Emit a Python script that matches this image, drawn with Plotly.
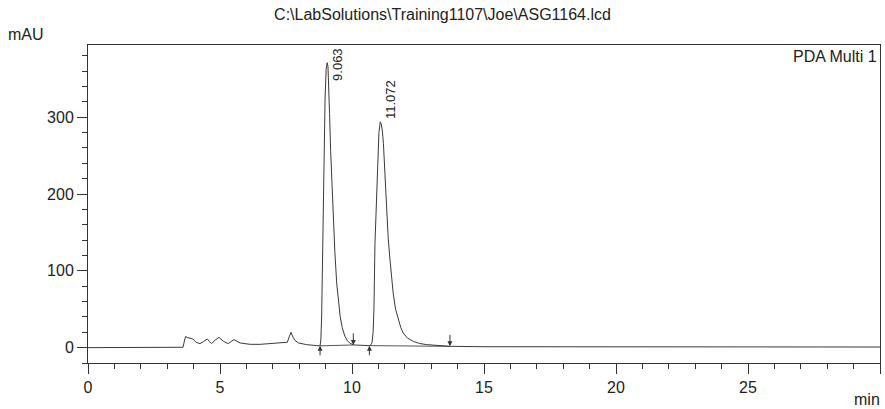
import plotly.graph_objects as go

# ---- data ----
time_min = [0.0, 3.60, 3.66, 3.70, 3.78, 3.84, 3.97, 4.09, 4.24, 4.38, 4.52, 4.60, 4.68,
            4.82, 4.96, 5.13, 5.31, 5.42, 5.53, 5.76, 6.14, 6.52, 6.89, 7.40, 7.55, 7.62,
            7.69, 7.76, 7.84, 7.97, 8.28, 8.66, 8.79, 8.82, 8.85, 8.89, 8.94, 8.98, 9.02,
            9.06, 9.09, 9.12, 9.15, 9.19, 9.24, 9.29, 9.35, 9.42, 9.48, 9.55, 9.63, 9.73,
            9.82, 9.92, 10.05, 10.40, 10.66, 10.72, 10.76, 10.80, 10.83, 10.87, 10.91,
            10.96, 11.02, 11.07, 11.11, 11.15, 11.19, 11.25, 11.31, 11.37, 11.44, 11.50,
            11.56, 11.65, 11.75, 11.85, 11.94, 12.10, 12.32, 12.55, 12.83, 13.20, 13.71,
            15.0, 20.0, 25.0, 30.0]
signal_mau = [0.0, 0.5, 10.0, 14.5, 13.0, 12.6, 11.3, 7.0, 5.2, 8.0, 11.3, 8.0, 5.2,
              10.0, 13.4, 8.2, 5.2, 8.0, 10.4, 6.1, 4.3, 4.3, 5.2, 6.1, 7.0, 14.0,
              19.9, 14.0, 9.5, 6.1, 3.9, 2.6, 2.3, 10.0, 40.0, 127.0, 257.0, 325.0, 362.0,
              371.0, 366.0, 344.0, 305.0, 257.0, 210.0, 170.0, 125.0, 84.0, 60.0, 41.0,
              26.0, 15.0, 9.0, 6.0, 3.5, 2.8, 2.6, 3.9, 6.5, 20.0, 49.0, 136.0, 185.0,
              222.0, 280.0, 294.0, 291.0, 282.0, 266.0, 222.0, 179.0, 143.0, 114.0, 90.0,
              71.0, 50.0, 36.0, 26.0, 19.0, 12.5, 8.2, 5.5, 3.9, 2.6, 1.7,
              1.2, 0.9, 0.8, 0.8]

peak_times = [9.063, 11.072]
peak_heights = [371.0, 294.0]
peak_labels = ["9.063", "11.072"]

# integration marks: time, signal at mark, direction (+1 up arrow, -1 down arrow)
mark_times = [8.79, 10.05, 10.66, 13.71]
mark_values = [2.3, 3.5, 2.6, 1.7]
mark_dirs = [1, -1, 1, -1]

# integration baselines (start/end of each peak)
base_t = [[8.79, 10.05], [10.66, 13.71]]
base_v = [[2.3, 3.5], [2.6, 1.7]]

title_text = "C:\\LabSolutions\\Training1107\\Joe\\ASG1164.lcd"
font_family = "Liberation Sans, Arial, sans-serif"
fs = 16

fig = go.Figure()
for bt, bv in zip(base_t, base_v):
    fig.add_trace(go.Scatter(x=bt, y=bv, mode="lines",
                             line=dict(color="#555555", width=1), hoverinfo="skip"))
fig.add_trace(go.Scatter(x=time_min, y=signal_mau, mode="lines",
                         line=dict(color="#3a3a3a", width=1)))

shifts = [(10, -2), (11, 22)]
for t, h, lab, (xs, ys) in zip(peak_times, peak_heights, peak_labels, shifts):
    fig.add_annotation(x=t, y=h, text=lab, textangle=-90, showarrow=False,
                       xanchor="center", yanchor="middle", xshift=xs, yshift=ys,
                       font=dict(size=13, color="#222222", family=font_family))

for t, v, d in zip(mark_times, mark_values, mark_dirs):
    fig.add_annotation(x=t, y=v, text="", showarrow=True, ax=0,
                       ay=11 if d > 0 else -13, arrowhead=2, arrowsize=1.0,
                       arrowwidth=1, arrowcolor="#333333")

fig.add_annotation(xref="paper", yref="paper", x=1, y=1, xanchor="right", yanchor="top",
                   yshift=-1, xshift=-1, text="PDA Multi 1", showarrow=False,
                   font=dict(size=fs, color="#222222", family=font_family))
fig.add_annotation(xref="paper", yref="paper", x=0, y=1, xanchor="center", yanchor="bottom",
                   xshift=-62, yshift=0, text="mAU", showarrow=False,
                   font=dict(size=fs, color="#222222", family=font_family))
fig.add_annotation(xref="paper", yref="paper", x=1, y=0, xanchor="right", yanchor="top",
                   yshift=-26, xshift=2, text="min", showarrow=False,
                   font=dict(size=fs, color="#222222", family=font_family))

axis_common = dict(showline=True, linecolor="#333333", linewidth=1, mirror=True,
                   ticks="outside", ticklen=10, tickcolor="#333333", tickwidth=1,
                   showgrid=False, zeroline=False,
                   tickfont=dict(size=fs, color="#222222", family=font_family))

fig.update_xaxes(range=[0, 30], dtick=5, tick0=0,
                 minor=dict(dtick=1, ticks="outside", ticklen=5, tickcolor="#333333"),
                 **axis_common)
fig.update_yaxes(range=[-20, 394], tickvals=[0, 100, 200, 300],
                 minor=dict(dtick=20, tick0=0, ticks="outside", ticklen=5, tickcolor="#333333"),
                 **axis_common)

fig.update_layout(
    width=885, height=409,
    margin=dict(l=88, r=5, t=45, b=46),
    paper_bgcolor="white", plot_bgcolor="white",
    showlegend=False,
    title=dict(text=title_text, x=0.5, xanchor="center", y=1, yanchor="top", pad=dict(t=9),
               font=dict(size=fs, color="#222222", family=font_family)),
)

fig.write_html("out.html")
